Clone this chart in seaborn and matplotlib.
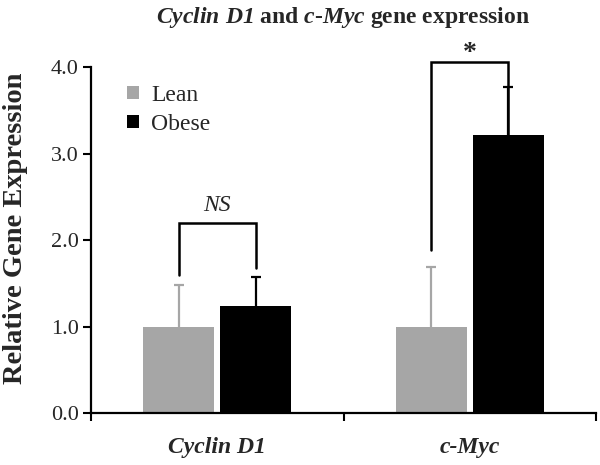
import matplotlib
matplotlib.use("Agg")
import matplotlib.pyplot as plt
import seaborn as sns
import pandas as pd
import numpy as np
from matplotlib.patches import Patch

genes = ["Cyclin D1", "c-Myc"]
groups = ["Lean", "Obese"]
lean_vals = [1.0, 1.0]
obese_vals = [1.24, 3.21]
lean_err = [0.48, 0.69]
obese_err = [0.33, 0.56]
bracket_labels = ["NS", "*"]
bracket_tops = [2.2, 4.06]
bracket_left_bottoms = [1.60, 1.88]
bracket_right_bottoms = [1.68, 3.21]
yticks = [0.0, 1.0, 2.0, 3.0, 4.0]

colors = {"Lean": "#a6a6a6", "Obese": "#000000"}

df = pd.DataFrame({
    "gene": genes * 2,
    "group": ["Lean"] * len(genes) + ["Obese"] * len(genes),
    "value": lean_vals + obese_vals,
})
errs = {"Lean": lean_err, "Obese": obese_err}

sns.set_style("white")
plt.rcParams["font.family"] = ["Liberation Serif", "DejaVu Serif"]
plt.rcParams["mathtext.fontset"] = "custom"
plt.rcParams["mathtext.it"] = "Liberation Serif:italic:bold"
plt.rcParams["mathtext.rm"] = "Liberation Serif:italic:bold"

fig = plt.figure(figsize=(6.0, 4.65), dpi=100)
ax = fig.add_axes([0.1517, 0.1118, 0.8416, 0.7441])

sns.barplot(data=df, x="gene", y="value", hue="group", order=genes,
            hue_order=groups, palette=colors, width=0.61, gap=0.08,
            errorbar=None, saturation=1, linewidth=0, ax=ax, legend=False)

centers = {}
for cont, g in zip(ax.containers, groups):
    xs = []
    for bar, e in zip(cont, errs[g]):
        bar.set_linewidth(0)
        x = bar.get_x() + bar.get_width() / 2
        h = bar.get_height()
        xs.append(x)
        _, caps, _ = ax.errorbar([x], [h], yerr=[[0], [e]], fmt="none",
                                 ecolor=colors[g], elinewidth=1.6, capsize=3.5,
                                 capthick=1.6, clip_on=False, zorder=3)
        for c in caps:
            if abs(c.get_ydata()[0] - h) < 1e-9:
                c.set_visible(False)
    centers[g] = xs

for i in range(len(genes)):
    xl = centers["Lean"][i]
    xr = centers["Obese"][i]
    top = bracket_tops[i]
    ax.plot([xl, xl, xr, xr],
            [bracket_left_bottoms[i], top, top, bracket_right_bottoms[i]],
            color="black", lw=1.8, clip_on=False, zorder=4,
            solid_joinstyle="miter")
    if bracket_labels[i] == "*":
        ax.text((xl + xr) / 2, top - 0.05, "*", ha="center", va="bottom",
                fontsize=20, fontweight="bold", clip_on=False)
    else:
        ax.text((xl + xr) / 2, top + 0.08, bracket_labels[i], ha="center",
                va="bottom", fontsize=17, fontstyle="italic", clip_on=False)

ax.set_ylim(0, 4.0)
ax.set_xlim(-0.5, len(genes) - 0.5)
ax.set_yticks(yticks)
ax.set_yticklabels([f"{v:.1f}" for v in yticks], fontsize=16)
ax.set_xticks(range(len(genes)))
ax.set_xticklabels(genes, fontsize=17, fontweight="bold", fontstyle="italic")
ax.set_xticks(np.arange(-0.5, len(genes), 1.0), minor=True)
ax.tick_params(axis="x", which="major", length=0, pad=17)
ax.tick_params(axis="x", which="minor", length=6, width=1.5, direction="out",
               color="black", bottom=True)
ax.tick_params(axis="y", length=6, width=1.5, direction="out", color="black",
               left=True, pad=3)
ax.set_xlabel("")
ax.set_ylabel("Relative Gene Expression", fontsize=20.5, fontweight="bold")
ax.yaxis.set_label_coords(-0.125, 0.535)

for s in ["top", "right"]:
    ax.spines[s].set_visible(False)
for s in ["left", "bottom"]:
    ax.spines[s].set_color("black")
    ax.spines[s].set_linewidth(1.6)

handles = [Patch(facecolor=colors[g], edgecolor="none", label=g) for g in groups]
ax.legend(handles=handles, loc="upper left", bbox_to_anchor=(0.03, 1.01),
          frameon=False, fontsize=17, handlelength=0.5, handleheight=0.5,
          handletextpad=0.5, labelspacing=0.35)

fig.text(0.572, 0.962,
         r"$\mathrm{Cyclin\ D1}$ and $\mathrm{c}$-$\mathrm{Myc}$ gene expression",
         ha="center", va="center", fontsize=17, fontweight="bold")

fig.savefig("out.png", dpi=100)
